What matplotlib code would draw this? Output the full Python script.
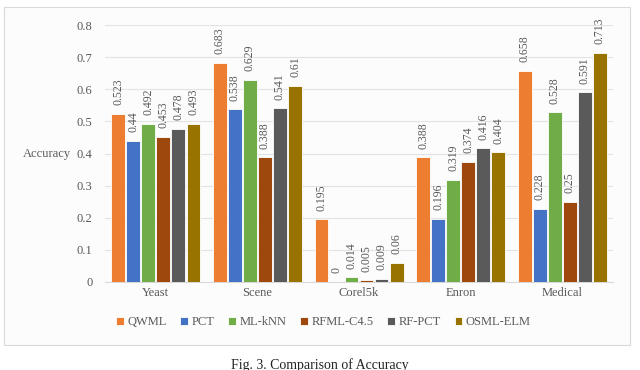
import numpy as np
import matplotlib.pyplot as plt
from matplotlib.patches import Rectangle

plt.rcParams['font.family'] = ['Liberation Serif', 'DejaVu Serif']

datasets = ["Yeast", "Scene", "Corel5k", "Enron", "Medical"]
methods = ["QWML", "PCT", "ML-kNN", "RFML-C4.5", "RF-PCT", "OSML-ELM"]
colors = ["#ED7D31", "#4472C4", "#70AD47", "#9E480E", "#5A5A5A", "#997300"]

qwml = [0.523, 0.683, 0.195, 0.388, 0.658]
pct = [0.44, 0.538, 0, 0.196, 0.228]
mlknn = [0.492, 0.629, 0.014, 0.319, 0.528]
rfml = [0.453, 0.388, 0.005, 0.374, 0.25]
rfpct = [0.478, 0.541, 0.009, 0.416, 0.591]
osml = [0.493, 0.61, 0.06, 0.404, 0.713]
series = [qwml, pct, mlknn, rfml, rfpct, osml]

txt = "#595959"

fig = plt.figure(figsize=(6.4, 3.7), dpi=100)
fig.patch.set_facecolor("white")
# outer chart frame
fig.patches.append(Rectangle((0.006, 0.068), 0.978, 0.913, transform=fig.transFigure,
                             facecolor="#FCFCFD", edgecolor="#D9D9D9", lw=0.8, zorder=-1))

ax = fig.add_axes([0.164, 0.238, 0.794, 0.694])
ax.set_facecolor("none")
ax.set_zorder(2)

x = np.arange(len(datasets))
w = 0.135
step = 0.148
for i, (vals, c) in enumerate(zip(series, colors)):
    pos = x + (i - 2.5) * step
    ax.bar(pos, vals, w, color=c, edgecolor="white", lw=0.6, label=methods[i], zorder=3)
    for p, v in zip(pos, vals):
        ax.text(p, v + 0.027, f"{v:g}", rotation=90, ha="center", va="bottom",
                fontsize=8.5, color=txt)

ax.set_ylim(0, 0.8)
ax.set_xlim(-0.5, 4.5)
ax.set_yticks(np.arange(0, 0.81, 0.1))
ax.set_yticklabels(["0"] + [f"{t:.1f}" for t in np.arange(0.1, 0.81, 0.1)])
ax.set_xticks(x)
ax.set_xticklabels(datasets)
ax.tick_params(axis="both", length=0, labelsize=9, colors=txt)
ax.tick_params(axis="y", pad=9)
ax.grid(axis="y", color="#E3E3E3", lw=0.8, zorder=0)
for s in ["top", "right", "left"]:
    ax.spines[s].set_visible(False)
ax.spines["bottom"].set_color("#D9D9D9")

fig.text(0.074, 0.583, "Accuracy", ha="center", va="center", fontsize=9, color=txt)

ax.legend(loc="upper center", bbox_to_anchor=(0.43, -0.09), ncol=6, frameon=False,
          fontsize=9, handlelength=0.6, handleheight=0.6, handletextpad=0.3,
          columnspacing=1.1, labelcolor=txt)

fig.text(0.5, 0.032, "Fig. 3. Comparison of Accuracy", ha="center", va="top",
         fontsize=10, color="#222222")

fig.savefig("out.png", dpi=100)
